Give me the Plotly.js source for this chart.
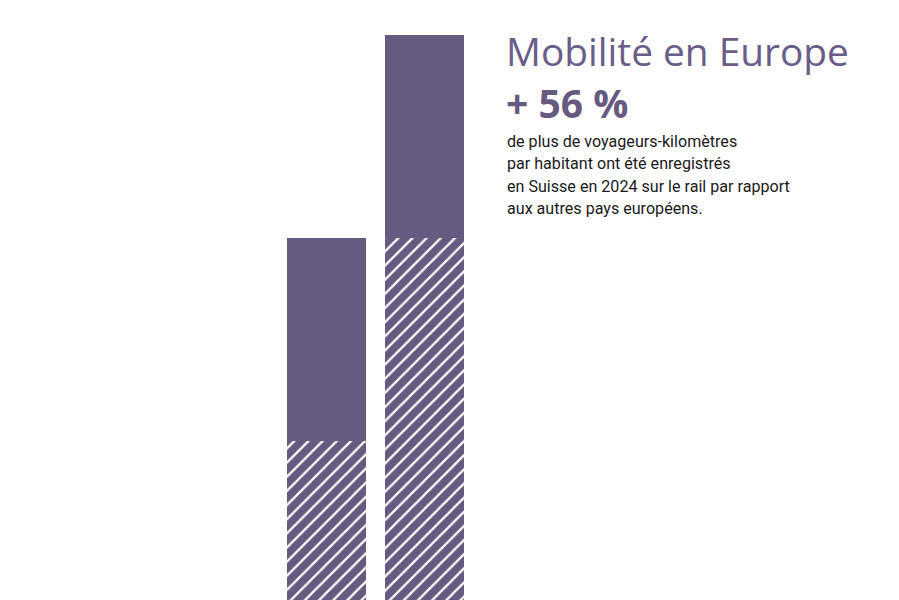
<!DOCTYPE html>
<html>
<head>
<meta charset="utf-8">
<script src="https://cdn.plot.ly/plotly-3.0.1.min.js"></script>
<style>html,body{margin:0;padding:0;background:#fff;}#chart{width:899px;height:600px;}</style>
</head>
<body>
<div id="chart"></div>
<script>
const categories = ["Europe", "Suisse"];
const hatchedValues = [44, 100];
const solidValues = [56, 56];
const titleText = "Mobilité en Europe";
const highlightText = "+ 56 %";
const bodyLines = [
  "de plus de voyageurs-kilomètres",
  "par habitant ont été enregistrés",
  "en Suisse en 2024 sur le rail par rapport",
  "aux autres pays européens."
];

const purple = "#675a80";
const textX = 504 / 899;
const py = v => 1 - v / 600;

const traces = [
  {
    type: "bar",
    x: categories,
    y: hatchedValues,
    width: 0.806,
    marker: {
      color: purple,
      line: {width: 0},
      pattern: {shape: "/", bgcolor: purple, fgcolor: "#ffffff", size: 10, solidity: 0.22, fillmode: "replace"}
    },
    hoverinfo: "none"
  },
  {
    type: "bar",
    x: categories,
    y: solidValues,
    width: 0.806,
    marker: {color: purple, line: {width: 0}},
    hoverinfo: "none"
  }
];

const annotations = [
  {
    xref: "paper", yref: "paper", x: textX, y: py(51),
    xanchor: "left", yanchor: "middle", showarrow: false,
    text: titleText,
    font: {family: "Open Sans, sans-serif", size: 38.8, color: "#6a5d88"}
  },
  {
    xref: "paper", yref: "paper", x: textX, y: py(102),
    xanchor: "left", yanchor: "middle", showarrow: false,
    text: "<b>" + highlightText + "</b>",
    font: {family: "Open Sans, sans-serif", size: 39, color: purple}
  }
];
const baselines = [146, 168.5, 191, 213];
bodyLines.forEach((line, i) => {
  annotations.push({
    xref: "paper", yref: "paper", x: 505 / 899, y: py(baselines[i] - 5),
    xanchor: "left", yanchor: "middle", showarrow: false, align: "left",
    text: line,
    font: {family: "Roboto, sans-serif", size: 16.1, color: "#1a1a1a"}
  });
});

const layout = {
  width: 899,
  height: 600,
  margin: {l: 0, r: 0, t: 0, b: 0},
  paper_bgcolor: "#ffffff",
  plot_bgcolor: "#ffffff",
  barmode: "stack",
  showlegend: false,
  xaxis: {range: [-3.332, 5.842], visible: false, fixedrange: true},
  yaxis: {range: [0, 165.66], visible: false, fixedrange: true},
  annotations: annotations
};

Plotly.newPlot("chart", traces, layout, {displayModeBar: false, staticPlot: true});
</script>
</body>
</html>
